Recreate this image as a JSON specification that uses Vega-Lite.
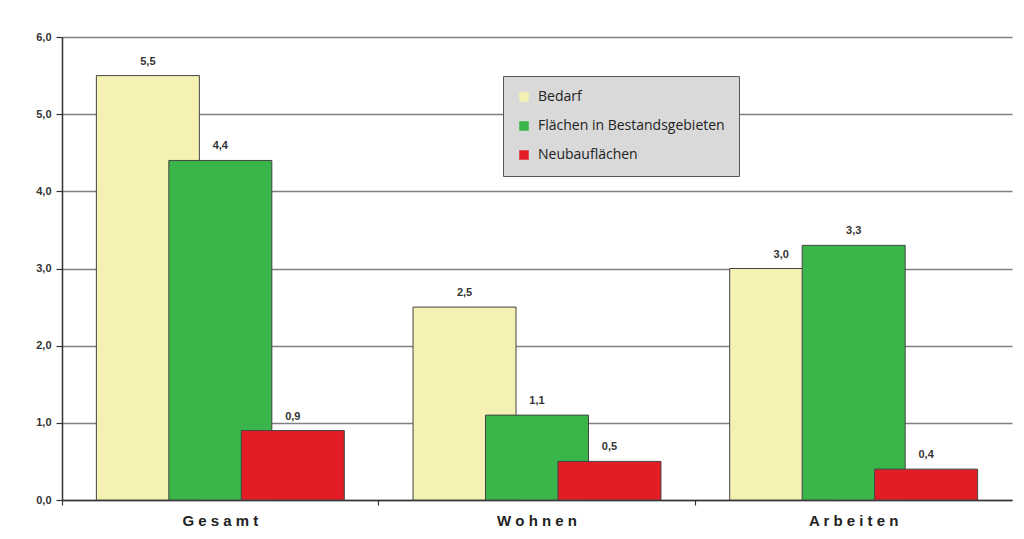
{
  "$schema": "https://vega.github.io/schema/vega-lite/v6.json",
  "width": 950,
  "height": 463,
  "autosize": {"type": "none"},
  "padding": {"left": 62, "top": 37, "right": 12, "bottom": 39},
  "background": "white",
  "config": {
    "locale": {"number": {"decimal": ",", "thousands": ".", "grouping": [3], "currency": ["", " €"]}},
    "view": {"stroke": null},
    "font": "Liberation Sans"
  },
  "data": {
    "values": [
      {"Bereich": "Gesamt", "Art": "Bedarf", "Wert": 5.5},
      {"Bereich": "Gesamt", "Art": "Flächen in Bestandsgebieten", "Wert": 4.4},
      {"Bereich": "Gesamt", "Art": "Neubauflächen", "Wert": 0.9},
      {"Bereich": "Wohnen", "Art": "Bedarf", "Wert": 2.5},
      {"Bereich": "Wohnen", "Art": "Flächen in Bestandsgebieten", "Wert": 1.1},
      {"Bereich": "Wohnen", "Art": "Neubauflächen", "Wert": 0.5},
      {"Bereich": "Arbeiten", "Art": "Bedarf", "Wert": 3.0},
      {"Bereich": "Arbeiten", "Art": "Flächen in Bestandsgebieten", "Wert": 3.3},
      {"Bereich": "Arbeiten", "Art": "Neubauflächen", "Wert": 0.4}
    ]
  },
  "encoding": {
    "x": {
      "field": "Bereich",
      "type": "nominal",
      "sort": ["Gesamt", "Wohnen", "Arbeiten"],
      "scale": {"paddingInner": 0, "paddingOuter": 0},
      "axis": {
        "title": null,
        "bandPosition": 0,
        "ticks": true,
        "tickSize": 5,
        "tickColor": "#333",
        "tickWidth": 1.2,
        "labelAngle": 0,
        "labelFontWeight": "bold",
        "labelFontSize": 15,
        "labelColor": "#222",
        "labelPadding": 8,
        "domainColor": "#333",
        "domainWidth": 1.5,
        "labelExpr": "datum.value == 'Wohnen' ? join(split(datum.value, ''), ' ') : join(split(datum.value, ''), ' ')"
      }
    },
    "xOffset": {
      "field": "Art",
      "type": "nominal",
      "sort": ["Bedarf", "Flächen in Bestandsgebieten", "Neubauflächen"],
      "scale": {"paddingInner": 0, "paddingOuter": 0.685}
    },
    "y": {
      "field": "Wert",
      "type": "quantitative",
      "scale": {"domain": [0, 6]},
      "axis": {
        "title": null,
        "values": [0, 1, 2, 3, 4, 5, 6],
        "format": ".1f",
        "labelFontWeight": "bold",
        "labelFontSize": 11,
        "labelColor": "#333",
        "labelPadding": 5,
        "tickColor": "#333",
        "tickSize": 6,
        "tickWidth": 1.2,
        "domainColor": "#333",
        "domainWidth": 1.5,
        "gridColor": "#808080",
        "gridWidth": 1.6
      }
    }
  },
  "layer": [
    {
      "mark": {"type": "bar", "width": 103, "stroke": "#444", "strokeWidth": 1},
      "encoding": {
        "color": {
          "field": "Art",
          "type": "nominal",
          "scale": {
            "domain": ["Bedarf", "Flächen in Bestandsgebieten", "Neubauflächen"],
            "range": ["#F4F1B3", "#3AB54A", "#E31D26"]
          },
          "legend": {
            "title": null,
            "orient": "none",
            "legendX": 441,
            "legendY": 39,
            "fillColor": "#d9d9d9",
            "strokeColor": "#555",
            "padding": 14,
            "symbolType": "square",
            "symbolSize": 90,
            "symbolStrokeWidth": 0,
            "symbolOpacity": 1,
            "labelFont": "Open Sans",
            "labelFontSize": 14,
            "labelColor": "#222",
            "labelOffset": 7,
            "labelLimit": 400,
            "rowPadding": 15
          }
        }
      }
    },
    {
      "mark": {"type": "text", "dy": -14, "fontWeight": "bold", "fontSize": 11, "color": "#333"},
      "encoding": {
        "text": {"field": "Wert", "type": "quantitative", "format": ".1f"}
      }
    }
  ]
}
